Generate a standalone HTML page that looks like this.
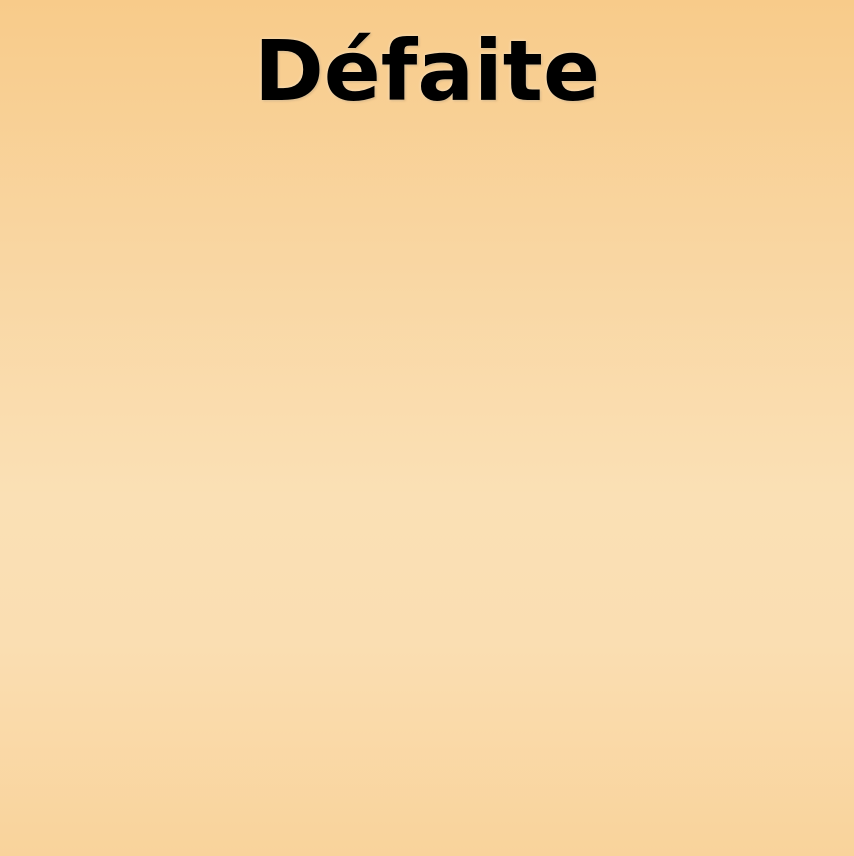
<!DOCTYPE html>
<html>
<head>
<meta charset="utf-8">
<style>
  html, body { margin: 0; padding: 0; }
  body {
    width: 854px;
    height: 856px;
    overflow: hidden;
    background: linear-gradient(to bottom, #f8cb8a 0%, #f9d6a2 30%, #fae0b5 58%, #fadeb2 75%, #f9d39b 100%);
    font-family: "DejaVu Sans", "Liberation Sans", sans-serif;
  }
  #title {
    position: absolute;
    left: 0;
    top: 21px;
    width: 854px;
    text-align: center;
    font-weight: bold;
    font-size: 84px;
    line-height: 100px;
    color: #000;
    text-shadow: 0 0 3px rgba(255,255,255,0.6), 1px 1px 2px rgba(120,80,20,0.35);
  }
</style>
</head>
<body>
  <div id="title">Défaite</div>
</body>
</html>
